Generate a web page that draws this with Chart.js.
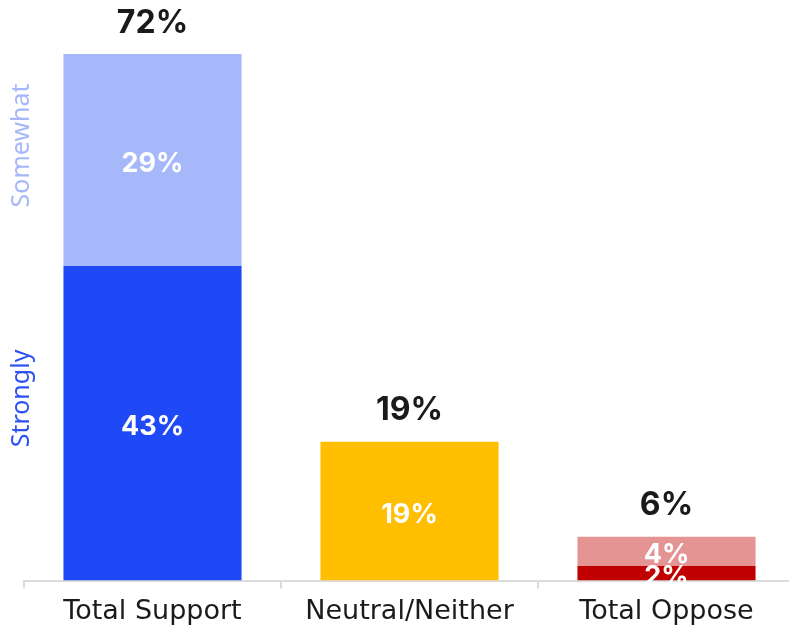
<!DOCTYPE html>
<html>
<head>
<meta charset="utf-8">
<script src="https://cdn.jsdelivr.net/npm/chart.js@4/dist/chart.umd.min.js"></script>
<style>
  html, body { margin: 0; padding: 0; overflow: hidden; background: #fff; }
  #wrap { width: 800px; height: 635px; position: relative; }
</style>
</head>
<body>
<div id="wrap"><canvas id="chart"></canvas></div>
<script>
const categories = ['Total Support', 'Neutral/Neither', 'Total Oppose'];
const strongValues = [43, 19, 2];
const somewhatValues = [29, 0, 4];
const strongColors = ['#1f48f6', '#ffbe00', '#c00000'];
const somewhatColors = ['#a6b8fa', '#ffbe00', '#e59494'];
const sideLabels = ['Somewhat', 'Strongly'];

// white value labels inside the segments and a dark total on top of each stack
const barLabels = {
  id: 'barLabels',
  afterDatasetsDraw(chart) {
    const ctx = chart.ctx;
    ctx.save();
    ctx.textAlign = 'center';
    ctx.textBaseline = 'middle';
    ctx.fillStyle = '#fff';
    ctx.font = 'bold 27px Inter';
    chart.data.datasets.forEach((ds, di) => {
      chart.getDatasetMeta(di).data.forEach((bar, i) => {
        const v = ds.data[i];
        if (!v) return;
        ctx.fillText(v + '%', bar.x, (bar.y + bar.base) / 2 + 4);
      });
    });
    ctx.fillStyle = '#1a1a1a';
    ctx.font = 'bold 32px Inter';
    const yScale = chart.scales.y;
    categories.forEach((c, i) => {
      const total = strongValues[i] + somewhatValues[i];
      const x = chart.getDatasetMeta(0).data[i].x;
      ctx.fillText(total + '%', x, yScale.getPixelForValue(total) - 31);
    });

    // rotated segment names along the left edge
    ctx.font = '25px "Noto Sans"';
    const left = chart.chartArea.left - 2;
    ctx.translate(left, yScale.getPixelForValue(59.5));
    ctx.rotate(-Math.PI / 2);
    ctx.fillStyle = '#a6b8fa';
    ctx.fillText(sideLabels[0], 0, 0);
    ctx.rotate(Math.PI / 2);
    ctx.translate(0, yScale.getPixelForValue(24.9) - yScale.getPixelForValue(59.5));
    ctx.rotate(-Math.PI / 2);
    ctx.fillStyle = '#2f52f2';
    ctx.fillText(sideLabels[1], 0, 0);
    ctx.restore();
  }
};

new Chart(document.getElementById('chart'), {
  type: 'bar',
  data: {
    labels: categories,
    datasets: [
      { label: 'Strongly', data: strongValues, backgroundColor: strongColors },
      { label: 'Somewhat', data: somewhatValues, backgroundColor: somewhatColors }
    ]
  },
  options: {
    responsive: true,
    maintainAspectRatio: false,
    animation: false,
    categoryPercentage: 1,
    barPercentage: 0.693,
    layout: { padding: { left: 24, right: 5, top: 54, bottom: 0 } },
    plugins: { legend: { display: false }, tooltip: { enabled: false } },
    scales: {
      x: {
        stacked: true,
        border: { color: '#dcdcdc', width: 2 },
        grid: { drawOnChartArea: false, drawTicks: true, tickLength: 8, color: '#dcdcdc', lineWidth: 2 },
        ticks: { color: '#1a1a1a', font: { family: 'DejaVu Sans', size: 27 }, padding: 7 }
      },
      y: { stacked: true, display: false, min: 0, max: 72 }
    }
  },
  plugins: [barLabels]
});
</script>
</body>
</html>
